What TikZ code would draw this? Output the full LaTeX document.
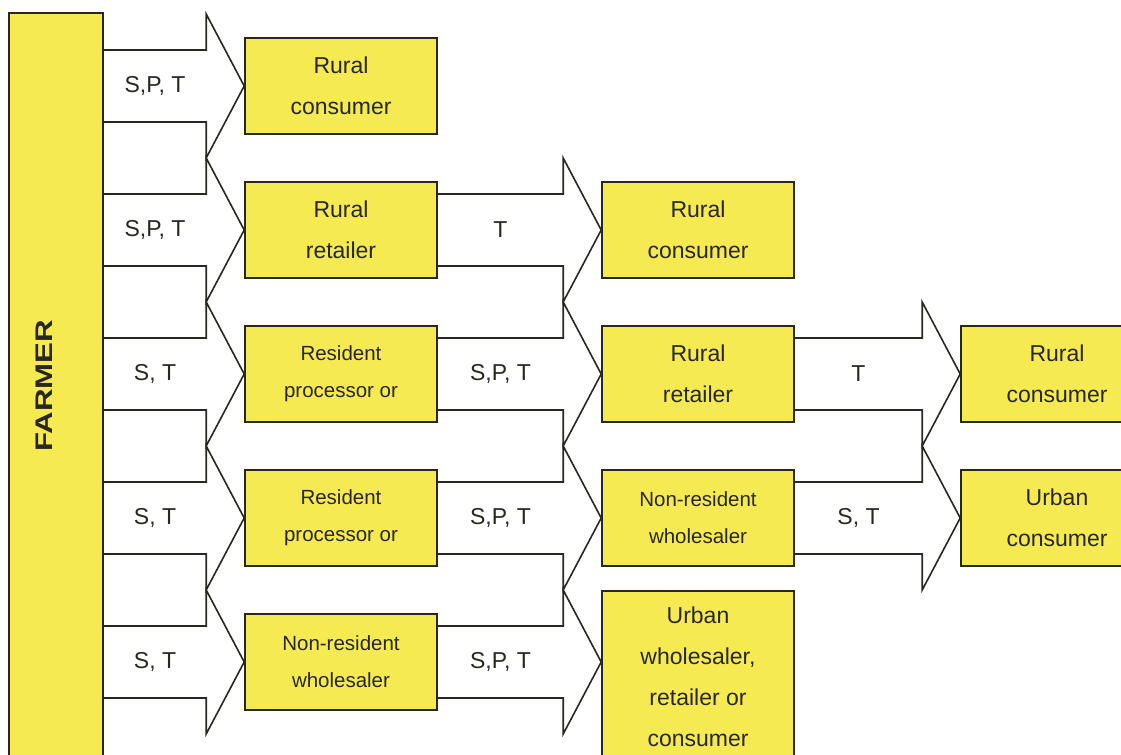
\documentclass[tikz,border=0pt]{standalone}
\usepackage{fontspec}
\setmainfont{Liberation Sans}
\usetikzlibrary{calc}
\definecolor{boxYellow}{RGB}{246,234,82}
\definecolor{inkGrey}{RGB}{40,40,32}

% #1 label name, #2 start of shaft, #3 tip, #4 label text
\newcommand{\flowArrow}[4]{%
  \draw[flow] ($(#2)+(0,-36)$) -- ($(#3)+(-38,-36)$) -- ($(#3)+(-38,-72)$) -- (#3)
    -- ($(#3)+(-38,72)$) -- ($(#3)+(-38,36)$) -- ($(#2)+(0,36)$);
  \path ($(#3)+(-38,0)$) coordinate (#1Base);
  \node[flowLabel] (#1) at ($(#2)!0.5!(#1Base)$) {#4};
}

\begin{document}
\begin{tikzpicture}[x=0.5pt, y=-0.5pt,
    flow/.style={draw=inkGrey, line width=0.8pt},
    flowLabel/.style={text=inkGrey, font=\fontsize{11.5}{13}\selectfont},
    stage/.style={draw=inkGrey, fill=boxYellow, line width=0.8pt, text=inkGrey,
      minimum width=96pt, minimum height=48pt, inner sep=0pt, align=center,
      font=\fontsize{11.5}{20.5}\selectfont},
    stageSmall/.style={stage, font=\fontsize{10.25}{18.5}\selectfont}]
  \useasboundingbox[fill=white] (0,0) rectangle (1121,755);
  % FARMER BAR
  \node[draw=inkGrey, fill=boxYellow, line width=0.8pt, minimum width=47pt,
    minimum height=380pt, inner sep=0pt] (farmer) at (56,393) {};
  \node[text=inkGrey, rotate=90, xscale=1.3, font=\bfseries\fontsize{12}{12}\selectfont]
    (farmerLabel) at (44,386) {FARMER};
  % FIRST STAGE
  \node[stage] (ruralConsumerA) at (341,86) {Rural\\consumer};
  \node[stage] (ruralRetailerA) at (341,230) {Rural\\retailer};
  \node[stageSmall] (processorA) at (341,374) {Resident\\processor or};
  \node[stageSmall] (processorB) at (341,518) {Resident\\processor or};
  \node[stageSmall] (nonResA) at (341,662) {Non-resident\\wholesaler};
  % SECOND STAGE
  \node[stage] (ruralConsumerB) at (698,230) {Rural\\consumer};
  \node[stage] (ruralRetailerB) at (698,374) {Rural\\retailer};
  \node[stageSmall] (nonResB) at (698,518) {Non-resident\\wholesaler};
  \node[stage, anchor=north, minimum height=86pt] (urbanAll) at (698,590)
    {Urban\\wholesaler,\\retailer or\\consumer};
  % THIRD STAGE
  \node[stage] (ruralConsumerC) at (1057,374) {Rural\\consumer};
  \node[stage] (urbanConsumerC) at (1057,518) {Urban\\consumer};
  % ARROWS FROM FARMER
  \flowArrow{lblA}{farmer.east |- ruralConsumerA.west}{ruralConsumerA.west}{S,P, T}
  \flowArrow{lblB}{farmer.east |- ruralRetailerA.west}{ruralRetailerA.west}{S,P, T}
  \flowArrow{lblC}{farmer.east |- processorA.west}{processorA.west}{S, T}
  \flowArrow{lblD}{farmer.east |- processorB.west}{processorB.west}{S, T}
  \flowArrow{lblE}{farmer.east |- nonResA.west}{nonResA.west}{S, T}
  % ARROWS TO SECOND STAGE
  \flowArrow{lblF}{ruralRetailerA.east}{ruralConsumerB.west}{T}
  \flowArrow{lblG}{processorA.east}{ruralRetailerB.west}{S,P, T}
  \flowArrow{lblH}{processorB.east}{nonResB.west}{S,P, T}
  \flowArrow{lblI}{nonResA.east}{urbanAll.west |- nonResA.east}{S,P, T}
  % ARROWS TO THIRD STAGE
  \flowArrow{lblJ}{ruralRetailerB.east}{ruralConsumerC.west}{T}
  \flowArrow{lblK}{nonResB.east}{urbanConsumerC.west}{S, T}
\end{tikzpicture}
\end{document}
